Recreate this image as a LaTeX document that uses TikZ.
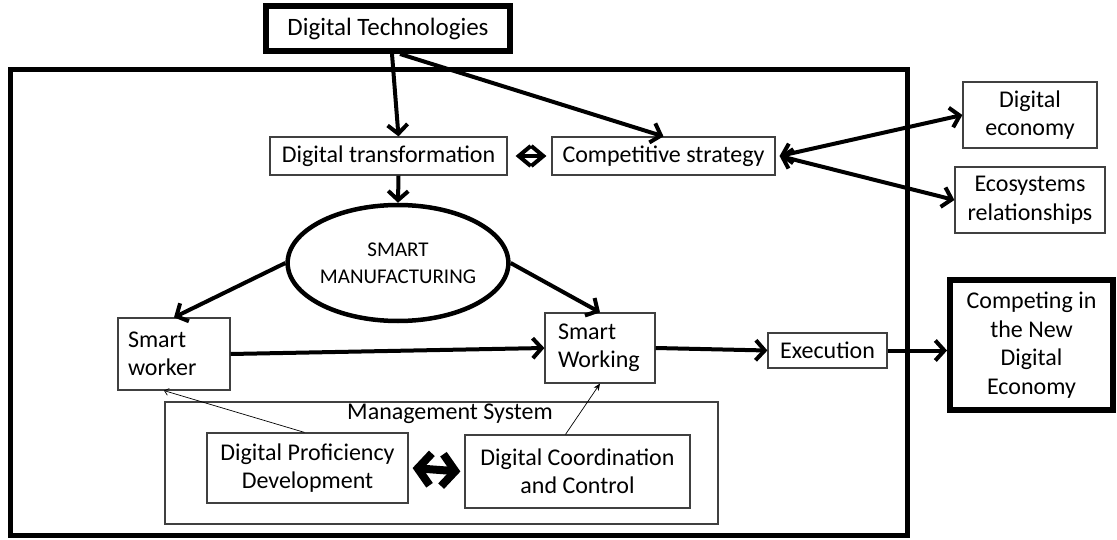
\documentclass[tikz,border=0pt]{standalone}
\usepackage{fontspec}
\setmainfont{Carlito}
\usetikzlibrary{arrows.meta,shapes.geometric}
\begin{document}
\begin{tikzpicture}[x=1pt,y=-1pt,
  txt/.style={font=\fontsize{24}{28.5}\selectfont},
  bx/.style={txt, draw=black!75, line width=1.2pt, inner sep=0pt, align=center},
  heavy/.style={txt, draw=black, line width=6pt, inner sep=0pt, align=center},
  arr/.style={line width=4pt, -{Straight Barb[length=9pt,width=20pt]}},
  darr/.style={line width=4pt, {Straight Barb[length=9pt,width=20pt]}-{Straight Barb[length=9pt,width=20pt]}},
  thin/.style={line width=0.7pt}
]
\useasboundingbox (0,0) rectangle (1117,540);
% outer frame
\node[draw, line width=5pt, minimum width=897pt, minimum height=465pt, inner sep=0pt] (frame) at (458.5,302.5) {};
% nodes
\node[heavy, minimum width=244pt, minimum height=45pt, font=\fontsize{25}{28.5}\selectfont] (dt) at (388,28.5) {Digital Technologies};
\node[bx, minimum width=237pt, minimum height=38pt] (dtr) at (388.5,156) {Digital transformation};
\node[bx, minimum width=223pt, minimum height=38pt] (cs) at (663.5,156) {Competitive strategy};
\node[bx, minimum width=134pt, minimum height=66pt] (de) at (1030,115) {Digital\\economy};
\node[bx, minimum width=150pt, minimum height=66pt] (eco) at (1030,200) {Ecosystems\\relationships};
\node[ellipse, draw, line width=4.5pt, minimum width=220pt, minimum height=116pt, inner sep=0pt, align=center, font=\fontsize{21}{27}\selectfont] (sm) at (398,263) {SMART\\MANUFACTURING};
\node[bx, minimum width=112pt, minimum height=72pt, text width=92pt, align=left] (sw) at (174,354) {Smart\\worker};
\node[bx, minimum width=110pt, minimum height=70pt, text width=84pt, align=left] (swk) at (600,348) {Smart\\Working};
\node[bx, minimum width=119pt, minimum height=35pt] (ex) at (827.5,350.5) {Execution};
\node[heavy, minimum width=163pt, minimum height=130pt] (comp) at (1031.5,345) {Competing in\\the New\\Digital\\Economy};
\node[bx, minimum width=553pt, minimum height=122pt] (ms) at (441.5,463) {};
\node[txt, inner sep=0pt] (mslabel) at (450,414) {Management System};
\node[bx, minimum width=201pt, minimum height=70pt] (dpd) at (307.5,468) {Digital Proficiency\\Development};
\node[bx, minimum width=225pt, minimum height=73pt] (dcc) at (577.5,471.5) {Digital Coordination\\and Control};
% connectors
\draw[arr] ([xshift=4pt]dt.south) -- ([xshift=10pt]dtr.north);
\draw[arr] ([xshift=12pt]dt.south) -- (cs.north);
\draw[arr] ([xshift=10pt]dtr.south) -- (sm.north);
\draw[line width=4pt, {Straight Barb[length=12pt,width=20pt]}-{Straight Barb[length=12pt,width=20pt]}] ([xshift=8pt]dtr.east) -- ([xshift=-5pt]cs.west);
\draw[darr] ([xshift=4pt]cs.east) -- (de.west);
\draw[darr] ([xshift=4pt]cs.east) -- (eco.west);
\draw[arr] (sm.west) -- (sw.north);
\draw[arr] (sm.east) -- (swk.north);
\draw[arr] (sw.east) -- (swk.west);
\draw[arr] (swk.east) -- (ex.west);
\draw[arr] (ex.east) -- (ex.east -| comp.west);
\draw[thin, -{Straight Barb[length=4pt,width=7pt]}] ([xshift=-3pt]dpd.north) -- ([xshift=-10pt]sw.south);
\draw[thin, -{Stealth[length=7pt,width=6pt]}] ([xshift=-12pt]dcc.north) -- (swk.south);
\draw[line width=8pt, {Straight Barb[length=13pt,width=32pt]}-{Straight Barb[length=13pt,width=32pt]}] ([xshift=4pt]dpd.east) -- ([xshift=-4pt]dcc.west);
\end{tikzpicture}
\end{document}
